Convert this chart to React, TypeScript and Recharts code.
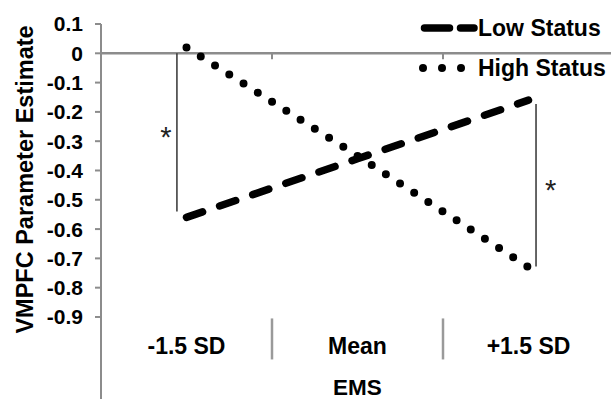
import React from "react";
import {
  LineChart,
  Line,
  XAxis,
  YAxis,
  Legend,
  ReferenceLine,
  ReferenceDot,
} from "recharts";

// EMS levels along the x axis
const categories = ["-1.5 SD", "Mean", "+1.5 SD"];
// VMPFC parameter estimates
const lowStatus = [-0.56, -0.36, -0.16];
const highStatus = [0.02, -0.35, -0.73];
const yTicks = [0.1, 0, -0.1, -0.2, -0.3, -0.4, -0.5, -0.6, -0.7, -0.8, -0.9];

const rows = categories.map((c, i) => ({
  pos: i + 0.5,
  category: c,
  low: lowStatus[i],
  high: highStatus[i],
}));

const FONT = "'Liberation Sans', Arial, sans-serif";
const AXIS_GREY = "#8c8c8c";

const CategoryTick = (props: any) => {
  const { x, y, payload } = props;
  const label = categories[Math.floor(payload.value)];
  return (
    <text x={x} y={y - 45} textAnchor="middle" fontSize={23} fontWeight="bold" fill="#000" fontFamily={FONT}>
      {label}
    </text>
  );
};

const LegendBox = () => (
  <svg width={201} height={80} style={{ display: "block" }}>
    <g transform="translate(-410,-8)">
      <line x1={424.5} y1={28} x2={449.5} y2={28} stroke="#000" strokeWidth={7.5} strokeLinecap="round" />
      <line x1={460.5} y1={28} x2={474} y2={28} stroke="#000" strokeWidth={7.5} strokeLinecap="round" />
      <text x={478} y={36} fontSize={23} fontWeight="bold" fill="#000" fontFamily={FONT}>
        Low Status
      </text>
      <circle cx={423} cy={68} r={4} fill="#000" />
      <circle cx={442} cy={68} r={4} fill="#000" />
      <circle cx={461} cy={68} r={4} fill="#000" />
      <text x={478} y={76} fontSize={23} fontWeight="bold" fill="#000" fontFamily={FONT}>
        High Status
      </text>
    </g>
  </svg>
);

export default function App() {
  return (
    <div style={{ position: "absolute", left: 0, top: 0, fontFamily: FONT, background: "#fff" }}>
      <LineChart
        width={611}
        height={400}
        data={rows}
        margin={{ top: 24, right: -3, bottom: 0, left: 0 }}
      >
        <XAxis
          dataKey="pos"
          type="number"
          domain={[0, 3]}
          ticks={[0.5, 1.5, 2.5]}
          interval={0}
          axisLine={false}
          tickLine={false}
          tickSize={0}
          tickMargin={0}
          height={1}
          tick={<CategoryTick />}
          label={{ value: "EMS", position: "insideBottom", offset: 5, fontSize: 22.5, fontWeight: "bold", fill: "#000" }}
        />
        <YAxis
          type="number"
          domain={[-1.18, 0.1]}
          ticks={yTicks}
          interval={0}
          allowDataOverflow
          width={101}
          axisLine={{ stroke: AXIS_GREY, strokeWidth: 2 }}
          tickLine={{ stroke: AXIS_GREY, strokeWidth: 2 }}
          tickSize={6}
          tickMargin={12}
          tick={{ fill: "#000", fontSize: 21, fontWeight: "bold" }}
          label={{
            value: "VMPFC Parameter Estimate",
            angle: -90,
            position: "center",
            dx: -26,
            dy: -32,
            fontSize: 23.5,
            fontWeight: "bold",
            fill: "#000",
          }}
        />
        <ReferenceLine y={0} stroke={AXIS_GREY} strokeWidth={2.5} />
        {/* boundary ticks on the zero line */}
        <ReferenceLine segment={[{ x: 1, y: 0 }, { x: 1, y: -0.02 }]} stroke={AXIS_GREY} strokeWidth={2} />
        <ReferenceLine segment={[{ x: 2, y: 0 }, { x: 2, y: -0.02 }]} stroke={AXIS_GREY} strokeWidth={2} />
        {/* category separators beneath the plot */}
        <ReferenceLine segment={[{ x: 1, y: -0.905 }, { x: 1, y: -1.045 }]} stroke="#9a9a9a" strokeWidth={2.5} />
        <ReferenceLine segment={[{ x: 2, y: -0.905 }, { x: 2, y: -1.045 }]} stroke="#9a9a9a" strokeWidth={2.5} />
        {/* significance brackets */}
        <ReferenceLine segment={[{ x: 0.444, y: 0 }, { x: 0.444, y: -0.54 }]} stroke="#333" strokeWidth={1.5} />
        <ReferenceLine segment={[{ x: 2.544, y: -0.173 }, { x: 2.544, y: -0.728 }]} stroke="#333" strokeWidth={1.5} />
        <ReferenceDot
          x={0.38}
          y={-0.285}
          r={1}
          fill="none"
          stroke="none"
          label={{ value: "*", position: "center", fontSize: 29, fill: "#222" }}
        />
        <ReferenceDot
          x={2.63}
          y={-0.465}
          r={1}
          fill="none"
          stroke="none"
          label={{ value: "*", position: "center", fontSize: 29, fill: "#222" }}
        />
        <Line
          type="linear"
          dataKey="low"
          name="Low Status"
          stroke="#000"
          strokeWidth={7.5}
          strokeDasharray="17 18"
          strokeLinecap="round"
          dot={false}
          activeDot={false}
          isAnimationActive={false}
        />
        <Line
          type="linear"
          dataKey="high"
          name="High Status"
          stroke="#000"
          strokeWidth={8}
          strokeDasharray="0 16.88"
          strokeLinecap="round"
          dot={false}
          activeDot={false}
          isAnimationActive={false}
        />
        <Legend
          layout="horizontal"
          verticalAlign="middle"
          align="center"
          content={<LegendBox />}
          wrapperStyle={{ left: 410, top: 8, width: 201, height: 80 }}
        />
      </LineChart>
    </div>
  );
}
